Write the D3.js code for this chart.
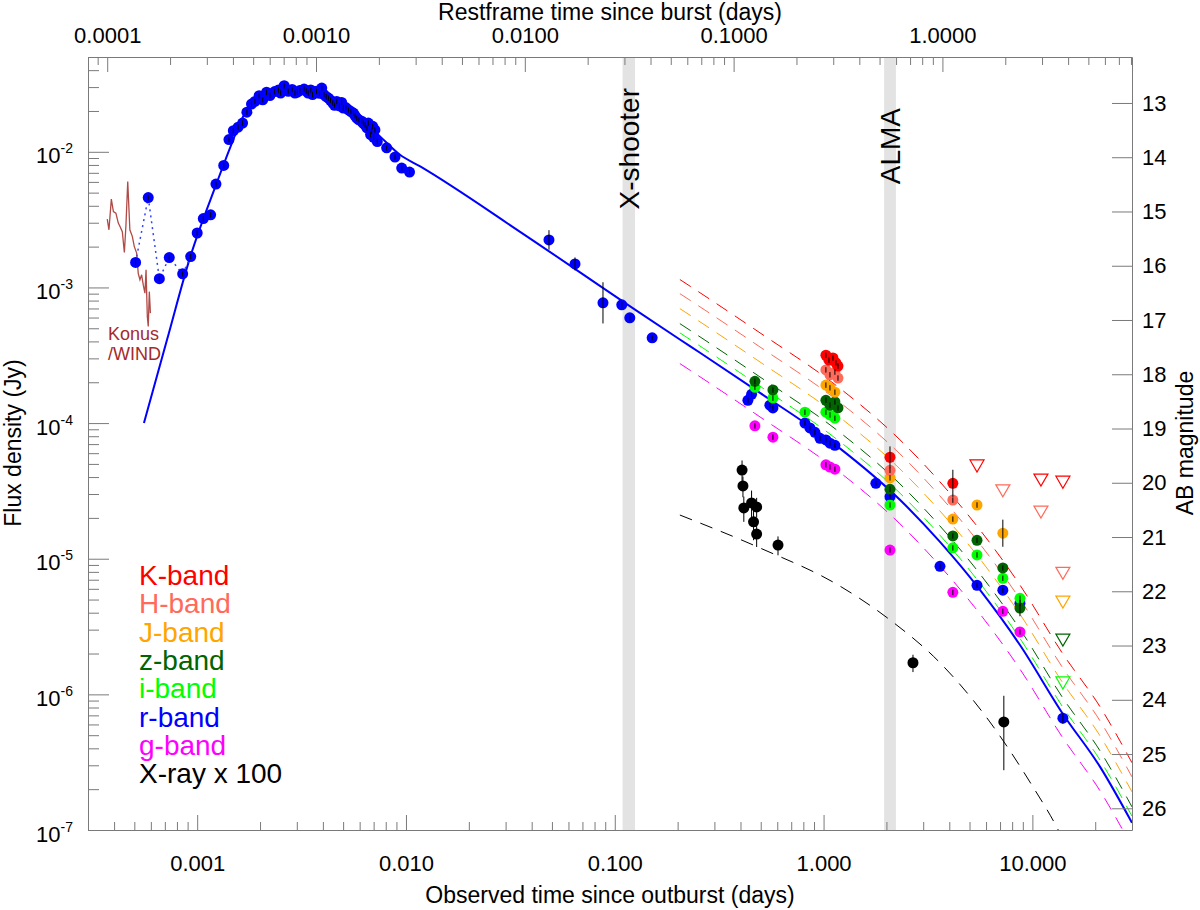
<!DOCTYPE html>
<html>
<head>
<meta charset="utf-8">
<script src="https://cdn.jsdelivr.net/npm/d3@7"></script>
<style>
  body { margin: 0; background: #fff; }
  text { font-family: "Liberation Sans", Arial, Helvetica, sans-serif; }
</style>
</head>
<body>
<svg id="chart" width="1200" height="910"></svg>
<script>
// redshift used for the restframe (top) axis
const redshift = 2.708;

// Konus/WIND prompt emission, scaled (days, Jy)
const konusCurve = [
  [3.71e-4,3.19e-3],[3.78e-4,2.66e-3],[3.88e-4,4.48e-3],[3.97e-4,3.63e-3],[4.08e-4,3.53e-3],
  [4.19e-4,2.98e-3],[4.27e-4,2.81e-3],[4.38e-4,2.58e-3],[4.48e-4,1.81e-3],[4.56e-4,2.90e-3],
  [4.65e-4,6.04e-3],[4.76e-4,2.66e-3],[4.89e-4,2.38e-3],[5.00e-4,2.00e-3],[5.13e-4,1.79e-3],
  [5.22e-4,1.27e-3],[5.32e-4,1.14e-3],[5.42e-4,1.24e-3],[5.52e-4,1.04e-3],[5.62e-4,9.08e-4],
  [5.69e-4,1.35e-3],[5.77e-4,6.11e-4],[5.83e-4,5.15e-4],[5.90e-4,9.31e-4],[5.97e-4,6.47e-4]
];

// early r-band flux (days, Jy); the first six are joined by the dotted line
const rFlux = [
  [5.07e-4,1.53e-3],[5.83e-4,4.60e-3],[6.59e-4,1.16e-3],[7.35e-4,1.66e-3],[8.52e-4,1.26e-3],
  [9.31e-4,1.69e-3],[1.00e-3,2.52e-3],[1.07e-3,3.22e-3],[1.16e-3,3.43e-3],[1.23e-3,5.78e-3],
  [1.34e-3,7.93e-3],[1.42e-3,1.23e-2],[1.49e-3,1.43e-2],[1.57e-3,1.52e-2],[1.65e-3,1.63e-2],
  [1.73e-3,1.96e-2],[1.82e-3,2.25e-2],[1.89e-3,2.35e-2],[1.98e-3,2.59e-2],[2.06e-3,2.42e-2],
  [2.15e-3,2.75e-2],[2.23e-3,2.60e-2],[2.35e-3,2.78e-2],[2.45e-3,2.85e-2],[2.51e-3,2.71e-2],
  [2.61e-3,3.07e-2],[2.73e-3,2.79e-2],[2.85e-3,2.88e-2],[2.94e-3,2.71e-2],[3.02e-3,2.75e-2],
  [3.10e-3,2.83e-2],[3.25e-3,2.90e-2],[3.33e-3,2.80e-2],[3.40e-3,2.71e-2],[3.50e-3,2.86e-2],
  [3.57e-3,2.64e-2],[3.73e-3,2.79e-2],[3.85e-3,2.70e-2],[3.95e-3,2.95e-2],[4.05e-3,2.64e-2],
  [4.15e-3,2.55e-2],[4.25e-3,2.49e-2],[4.35e-3,2.40e-2],[4.46e-3,2.29e-2],[4.55e-3,2.20e-2],
  [4.66e-3,2.35e-2],[4.80e-3,2.18e-2],[4.92e-3,2.31e-2],[5.01e-3,2.10e-2],[5.15e-3,2.12e-2],
  [5.30e-3,2.04e-2],[5.45e-3,1.98e-2],[5.60e-3,1.93e-2],[5.70e-3,1.85e-2],[5.81e-3,1.77e-2],
  [5.95e-3,1.72e-2],[6.14e-3,1.68e-2],[6.25e-3,1.62e-2],[6.37e-3,1.58e-2],[6.50e-3,1.50e-2],
  [6.60e-3,1.63e-2],[6.77e-3,1.34e-2],[6.85e-3,1.42e-2],[6.93e-3,1.54e-2],[7.00e-3,1.28e-2],
  [7.10e-3,1.45e-2],[7.29e-3,1.19e-2],[8.08e-3,1.07e-2],[8.86e-3,9.14e-3],[9.54e-3,7.59e-3],
  [1.04e-2,7.09e-3],
  [4.84e-2,2.24e-3,0.18],[6.45e-2,1.49e-3,0.12],[8.78e-2,7.70e-4,0.38],[0.108,7.44e-4,0.06],
  [0.118,5.97e-4,0.06],[0.151,4.25e-4,0.05]
];
const dottedCount = 6;
const typicalMagErr = 0.05;

// later photometry (days, AB mag, mag error)
const kBand = [[1.026,17.65],[1.061,17.74],[1.109,17.70],[1.146,17.79],[1.172,17.85],[2.08,19.53,0.2],[4.16,20.01,0.25]];
const hBand = [[1.026,17.92],[1.073,18.01],[1.133,17.96],[1.172,18.07],[2.08,19.77],[4.16,20.32]];
const jBand = [[1.026,18.20],[1.073,18.25],[1.133,18.33],[2.08,19.91],[4.16,20.67],[5.43,20.41],[7.22,20.93,0.25]];
const zBand = [[0.469,18.13],[0.572,18.29],[1.026,18.48],[1.073,18.57],[1.133,18.51],[1.172,18.62],
               [2.08,20.12],[4.16,20.98],[5.43,21.06],[7.22,21.57],[8.72,22.31,0.15]];
const iBand = [[0.469,18.24],[0.572,18.44],[0.814,18.70],[1.026,18.70],[1.073,18.75],[1.133,18.81],
               [2.08,20.41],[4.16,21.20],[5.43,21.33],[7.22,21.76],[8.72,22.13]];
const rBand = [[0.434,18.48],[0.452,18.37],[0.553,18.57],[0.572,18.62],[0.814,18.90],[0.860,18.99],
               [0.909,19.07],[0.961,19.18],[1.026,19.21],[1.073,19.27],[1.133,19.31],[1.78,20.01],
               [2.08,20.26],[3.61,21.54],[5.43,21.89],[7.22,21.98],[8.72,22.22],[14.0,24.34,0.1]];
const gBand = [[0.469,18.95],[0.572,19.16],[1.026,19.67],[1.073,19.71],[1.133,19.75],[2.08,21.24],
               [4.16,22.02],[7.22,22.37],[8.72,22.75]];

// upper limits (days, AB mag)
const kLim = [[5.43,19.69],[10.99,19.95],[14.0,19.99]];
const hLim = [[7.22,20.15],[10.99,20.54],[14.0,21.67]];
const jLim = [[14.0,22.20]];
const zLim = [[14.0,22.90]];
const iLim = [[14.0,23.69]];

// X-ray x 100 (days, Jy, error Jy)
const xrayPts = [[0.407,4.5e-5,0.8e-5],[0.411,3.44e-5,0.6e-5],[0.415,2.37e-5,0.5e-5],[0.452,2.58e-5,0.6e-5],
                 [0.462,1.87e-5,0.5e-5],[0.478,2.41e-5,0.4e-5],[0.478,1.52e-5,0.3e-5],[0.605,1.26e-5,0.2e-5],
                 [2.68,1.71e-6,0.25e-6],[7.3,6.26e-7,3.5e-7]];

// model light curve for r band (days, Jy)
const modelCurve = [
  [5.56e-4,1.0e-4],[7.17e-4,4.11e-4],[9.24e-4,1.66e-3],[1.24e-3,5.88e-3],[1.44e-3,1.08e-2],
  [1.66e-3,1.82e-2],[2.00e-3,2.56e-2],[2.49e-3,2.87e-2],[3.11e-3,2.95e-2],[3.88e-3,2.79e-2],
  [4.83e-3,2.35e-2],[6.02e-3,1.82e-2],[7.51e-3,1.30e-2],[9.36e-3,9.51e-3],[1.17e-2,7.80e-3],
  [3.52e-2,2.57e-3],[0.1156,7.44e-4],[0.205,4.13e-4],[0.256,3.30e-4],[0.496,1.67e-4],
  [1.172,6.68e-5],[2.32,2.72e-5],[3.61,1.33e-5],[5.61,5.89e-6],[8.72,2.31e-6],[14.0,7.17e-7],
  [21.1,2.92e-7],[30.0,1.13e-7]
];
const bandModelStart = 0.2;
// scaling of the model for the other bands
const bandScale = { K: 2.77, H: 2.18, J: 1.69, z: 1.31, i: 1.12, g: 0.665 };

// X-ray model (days, Jy)
const xrayModel = [[0.205,2.10e-5],[0.496,1.20e-5],[1.172,6.41e-6],[2.08,3.54e-6],[3.61,1.71e-6],
                   [6.26,6.26e-7],[9.73,2.26e-7],[13.3,1.0e-7],[16.0,5.5e-8]];

const xshooterWindow = [0.109, 0.125];
const almaWindow = [1.95, 2.22];

const legendLabels = ["K-band","H-band","J-band","z-band","i-band","r-band","g-band","X-ray x 100"];
const legendColors = ["#ff0000","#ff6a5a","#ffa500","#006400","#00ff00","#0000ff","#ff00ff","#000000"];

// ---------------------------------------------------------------
const svg = d3.select("#chart");
const m = { left: 88, right: 1132, top: 57, bottom: 830 };
const x = d3.scaleLog().domain([3e-4, 30]).range([m.left, m.right]);
const y = d3.scaleLog().domain([1e-7, 0.05]).range([m.bottom, m.top]);
const xr = d3.scaleLog().domain([3e-4 / (1 + redshift), 30 / (1 + redshift)]).range([m.left, m.right]);
const abMag = f => -2.5 * Math.log10(f / 3631);
const magToFlux = mg => 3631 * Math.pow(10, -0.4 * mg);
const ymag = d3.scaleLinear().domain([abMag(0.05), abMag(1e-7)]).range([m.top, m.bottom]);

svg.append("defs").append("clipPath").attr("id", "plot")
  .append("rect").attr("x", m.left).attr("y", m.top)
  .attr("width", m.right - m.left).attr("height", m.bottom - m.top);

const plot = svg.append("g").attr("clip-path", "url(#plot)");

// instrument windows
[xshooterWindow, almaWindow].forEach(w => {
  plot.append("rect")
    .attr("x", x(w[0])).attr("y", m.top)
    .attr("width", x(w[1]) - x(w[0])).attr("height", m.bottom - m.top)
    .attr("fill", "#e3e3e3");
});

const line = d3.line().x(d => x(d[0])).y(d => y(d[1])).curve(d3.curveMonotoneX);

// band model offsets (dashed)
const bandOrder = [["K","#ff0000"],["H","#ff6a5a"],["J","#ffa500"],["z","#006400"],["i","#00ff00"],["g","#ff00ff"]];
const lateModel = modelCurve.filter(d => d[0] >= bandModelStart);
bandOrder.forEach(([b, c]) => {
  plot.append("path")
    .datum(lateModel.map(d => [d[0], d[1] * bandScale[b]]))
    .attr("d", line).attr("fill", "none").attr("stroke", c)
    .attr("stroke-width", 1).attr("stroke-dasharray", "13,9");
});

plot.append("path").datum(xrayModel).attr("d", line)
  .attr("fill", "none").attr("stroke", "#000").attr("stroke-width", 1)
  .attr("stroke-dasharray", "13,9");

// main model
plot.append("path").datum(modelCurve).attr("d", line)
  .attr("fill", "none").attr("stroke", "#0000ff").attr("stroke-width", 2);

// Konus/WIND
plot.append("path").datum(konusCurve)
  .attr("d", d3.line().x(d => x(d[0])).y(d => y(d[1])))
  .attr("fill", "none").attr("stroke", "#b04a46").attr("stroke-width", 1.3);

// dotted early connection
plot.append("path").datum(rFlux.slice(0, dottedCount))
  .attr("d", d3.line().x(d => x(d[0])).y(d => y(d[1])))
  .attr("fill", "none").attr("stroke", "#3344ff").attr("stroke-width", 1.5)
  .attr("stroke-dasharray", "2,4");

// dots
function drawDots(pts, color) {
  plot.append("g").selectAll("circle").data(pts).join("circle")
    .attr("cx", d => x(d[0])).attr("cy", d => y(d[1])).attr("r", 5.5)
    .attr("fill", color);
}

const rFluxPts = rFlux.map(d => ({ t: d[0], f: d[1], e: d[2] || typicalMagErr }));
drawDots(rFlux, "#0000ff");

const bandSets = [
  [rBand, "#0000ff"], [gBand, "#ff00ff"], [iBand, "#00ff00"], [zBand, "#006400"],
  [jBand, "#ffa500"], [hBand, "#ff6a5a"], [kBand, "#ff0000"]
];
const magPts = [];
bandSets.forEach(([arr, c]) => {
  drawDots(arr.map(d => [d[0], magToFlux(d[1])]), c);
  arr.forEach(d => magPts.push({ t: d[0], f: magToFlux(d[1]), e: d[2] || typicalMagErr }));
});
drawDots(xrayPts, "#000");

// error bars
const bars = plot.append("g").attr("stroke", "#000").attr("stroke-width", 1);
rFluxPts.concat(magPts).forEach(p => {
  bars.append("line")
    .attr("x1", x(p.t)).attr("x2", x(p.t))
    .attr("y1", y(p.f * Math.pow(10, 0.4 * p.e))).attr("y2", y(p.f * Math.pow(10, -0.4 * p.e)));
});
xrayPts.forEach(d => {
  bars.append("line")
    .attr("x1", x(d[0])).attr("x2", x(d[0]))
    .attr("y1", y(d[1] + d[2])).attr("y2", y(Math.max(d[1] - d[2], 1e-8)));
});

// upper limits
const limSets = [[kLim,"#ff0000"],[hLim,"#ff6a5a"],[jLim,"#ffa500"],[zLim,"#006400"],[iLim,"#00ff00"]];
limSets.forEach(([arr, c]) => {
  plot.append("g").selectAll("path").data(arr).join("path")
    .attr("transform", d => `translate(${x(d[0])},${y(magToFlux(d[1]))})`)
    .attr("d", "M-7,-6L7,-6L0,6Z")
    .attr("fill", "none").attr("stroke", c).attr("stroke-width", 1.2);
});

// ---------------------------------------------------------------
// axes
function logTicks(lo, hi) {
  const major = [], minor = [];
  for (let e = Math.floor(Math.log10(lo)); e <= Math.ceil(Math.log10(hi)); e++) {
    for (let k = 1; k < 10; k++) {
      const v = k * Math.pow(10, e);
      if (v < lo * 0.999 || v > hi * 1.001) continue;
      (k === 1 ? major : minor).push(v);
    }
  }
  return { major, minor };
}

function styleAxis(g) {
  g.selectAll("path.domain").attr("stroke", "#7a7a7a");
  g.selectAll(".tick line").attr("stroke", "#7a7a7a");
  g.selectAll("text").attr("font-size", 22).attr("fill", "#000")
    .attr("font-family", '"Liberation Sans", Arial, sans-serif');
}

const xt = logTicks(3e-4, 30);
const gb = svg.append("g").attr("transform", `translate(0,${m.bottom})`);
gb.call(d3.axisBottom(x).tickValues(xt.major).tickFormat(d3.format(".3f"))
  .tickSize(-15).tickSizeOuter(0).tickPadding(25));
gb.append("g").call(d3.axisBottom(x).tickValues(xt.minor).tickFormat("").tickSize(-8).tickSizeOuter(0))
  .select("path.domain").remove();
styleAxis(gb);

const xrt = logTicks(3e-4 / (1 + redshift), 30 / (1 + redshift));
const gt = svg.append("g").attr("transform", `translate(0,${m.top})`);
gt.call(d3.axisTop(xr).tickValues(xrt.major).tickFormat(d3.format(".4f"))
  .tickSize(-15).tickSizeOuter(0).tickPadding(14));
gt.append("g").call(d3.axisTop(xr).tickValues(xrt.minor).tickFormat("").tickSize(-8).tickSizeOuter(0))
  .select("path.domain").remove();
styleAxis(gt);

const yt = logTicks(1e-7, 0.05);
const gl = svg.append("g").attr("transform", `translate(${m.left},0)`);
gl.call(d3.axisLeft(y).tickValues(yt.major).tickSize(-21).tickSizeOuter(0).tickPadding(15));
gl.append("g").call(d3.axisLeft(y).tickValues(yt.minor).tickFormat("").tickSize(-11).tickSizeOuter(0))
  .select("path.domain").remove();
styleAxis(gl);
gl.selectAll(".tick text").each(function (d) {
  const t = d3.select(this);
  if (!t.text()) return;
  const e = Math.round(Math.log10(d));
  t.text(null).attr("dy", "0.5em");
  t.append("tspan").text("10");
  t.append("tspan").attr("dy", -10).attr("font-size", 14).text(String(e));
});

const gr = svg.append("g").attr("transform", `translate(${m.right},0)`);
gr.call(d3.axisRight(ymag).tickValues(d3.range(13, 27)).tickFormat(d3.format("d"))
  .tickSize(-20).tickSizeOuter(0).tickPadding(10));
styleAxis(gr);

// axis titles
svg.append("text").attr("x", 610).attr("y", 903).attr("text-anchor", "middle")
  .attr("font-size", 23).text("Observed time since outburst (days)");
svg.append("text").attr("x", 610).attr("y", 20).attr("text-anchor", "middle")
  .attr("font-size", 23).text("Restframe time since burst (days)");
svg.append("text").attr("transform", "translate(21,443) rotate(-90)").attr("text-anchor", "middle")
  .attr("font-size", 23).text("Flux density (Jy)");
svg.append("text").attr("transform", "translate(1193,443) rotate(-90)").attr("text-anchor", "middle")
  .attr("font-size", 23).text("AB magnitude");

// window labels
svg.append("text")
  .attr("transform", `translate(${x(Math.sqrt(xshooterWindow[0] * xshooterWindow[1])) + 10},88) rotate(-90)`)
  .attr("text-anchor", "end").attr("font-size", 28).text("X-shooter");
svg.append("text")
  .attr("transform", `translate(${x(Math.sqrt(almaWindow[0] * almaWindow[1])) + 10},108) rotate(-90)`)
  .attr("text-anchor", "end").attr("font-size", 28).text("ALMA");

// Konus label
svg.append("text").attr("x", 108).attr("y", 340).attr("font-size", 18).attr("fill", "#a52a2a").text("Konus");
svg.append("text").attr("x", 108).attr("y", 360).attr("font-size", 18).attr("fill", "#a52a2a").text("/WIND");

// legend
svg.append("g").selectAll("text").data(legendLabels).join("text")
  .attr("x", 139).attr("y", (d, i) => 585 + i * 28.3)
  .attr("font-size", 28).attr("fill", (d, i) => legendColors[i])
  .text(d => d);
</script>
</body>
</html>
